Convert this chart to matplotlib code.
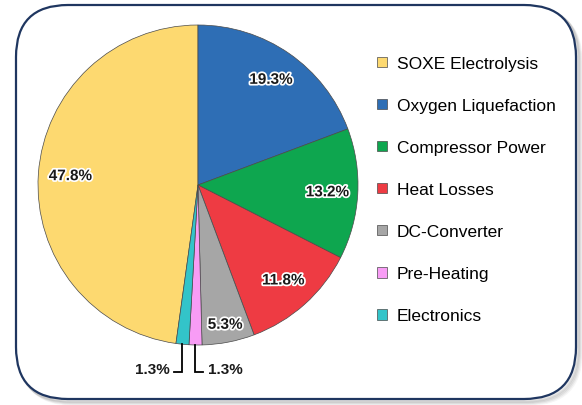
import numpy as np
import matplotlib.pyplot as plt
import matplotlib.patheffects as pe
from matplotlib.patches import FancyBboxPatch

# Données du graphique
categories = ['SOXE Electrolysis', 'Oxygen Liquefaction', 'Compressor Power',
              'Heat Losses', 'DC-Converter', 'Pre-Heating', 'Electronics']
shares = [47.8, 19.3, 13.2, 11.8, 5.3, 1.3, 1.3]
colors = ['#FDD970', '#2E6EB5', '#0EA64F', '#EE3B43', '#A6A6A6', '#F89CF5', '#33C4C9']

# distance des étiquettes (fraction du rayon)
label_r = [0.80, 0.80, 0.81, 0.80, 0.89, 0.80, 0.80]

W, H = 582, 406
fig = plt.figure(figsize=(W / 100, H / 100), dpi=100)
plt.rcParams['font.family'] = ['Liberation Sans', 'DejaVu Sans']

# Cadre arrondi avec ombre
bg = fig.add_axes([0, 0, 1, 1], zorder=0)
bg.set_xlim(0, W)
bg.set_ylim(H, 0)
bg.axis('off')
for k, a in [(5, 0.06), (4, 0.08), (3, 0.10), (2, 0.12)]:
    bg.add_patch(FancyBboxPatch((16 + k, 6 + k), 560, 394, boxstyle='round,pad=0,rounding_size=52',
                                facecolor='none', edgecolor='#555555', linewidth=2.5, alpha=a))
bg.add_patch(FancyBboxPatch((16, 6), 560, 394, boxstyle='round,pad=0,rounding_size=52',
                            facecolor='white', edgecolor='#1F3660', linewidth=1.6))

# Camembert
ax = fig.add_axes([38 / W, (H - 346) / H, 320 / W, 320 / H], zorder=1)
total = sum(shares)
wedges, _ = ax.pie(shares, colors=colors, startangle=90 + 360 * shares[0] / total,
                   counterclock=False,
                   wedgeprops=dict(edgecolor='#4a4a4a', linewidth=0.5))
ax.set_xlim(-1, 1)
ax.set_ylim(-1, 1)

glow = [pe.withStroke(linewidth=2.5, foreground='white')]
for w, v, r in zip(wedges, shares, label_r):
    mid = np.deg2rad((w.theta1 + w.theta2) / 2)
    x, y = np.cos(mid), np.sin(mid)
    if v >= 2:
        ax.text(r * x, r * y, f'{v:.1f}%', ha='center', va='center', fontsize=11,
                fontweight='bold', color='#1a1a1a', path_effects=glow)
    else:
        # étiquettes extérieures avec trait en L
        side = -1 if x < -0.05 else 1
        ax.plot([x, x, x + side * 0.05], [y, -1.17, -1.17], color='black', lw=1.3,
                clip_on=False, solid_joinstyle='miter')
        ax.text(x + side * 0.08, -1.15, f'{v:.1f}%', ha='left' if side > 0 else 'right',
                va='center', fontsize=11, fontweight='bold', color='#1a1a1a')

# Légende
fig.legend(wedges, categories, loc='upper left', bbox_to_anchor=(377 / W, 1 - 57 / H),
           frameon=False, fontsize=12.5, handlelength=0.55, handleheight=0.55,
           handletextpad=0.6, labelspacing=1.56, borderpad=0, borderaxespad=0)

plt.savefig('out.png', dpi=100)
